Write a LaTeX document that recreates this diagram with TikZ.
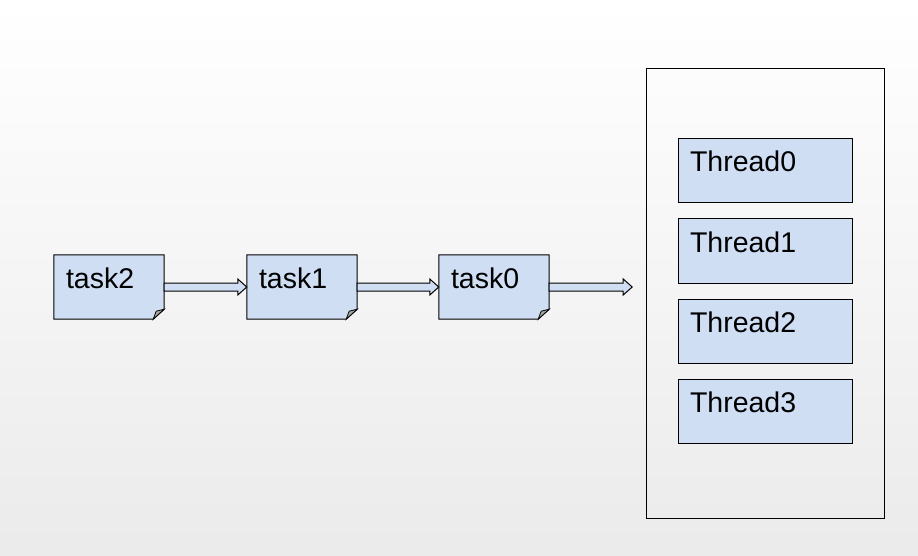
\documentclass[tikz,border=0pt]{standalone}
\usepackage{fontspec}
\setmainfont{Liberation Sans}
\usetikzlibrary{calc,backgrounds}
\definecolor{boxblue}{RGB}{207,222,243}
\definecolor{foldgray}{RGB}{165,165,165}

\tikzset{
  box/.style={inner xsep=12pt, inner ysep=0pt, align=left, text height=33pt, text depth=31pt,
    font=\fontsize{28.5}{34}\selectfont},
  taskbox/.style={box, text width=86pt},
  threadbox/.style={box, text width=150pt, fill=boxblue, draw, line width=1pt},
}

% block arrow from #1 to #2
\newcommand{\blockarrow}[2]{
  \filldraw[fill=boxblue, line width=1pt] ($(#1)+(0,-4)$) -- ($(#2)+(-9,-4)$) -- ($(#2)+(-9,-8)$)
    -- (#2) -- ($(#2)+(-9,8)$) -- ($(#2)+(-9,4)$) -- ($(#1)+(0,4)$) -- cycle;
}

\begin{document}
\begin{tikzpicture}[x=1pt, y=-1pt]
  % queue of tasks
  \node[taskbox] (task2) at (109,287) {task2};
  \node[taskbox] (task1) at (302,287) {task1};
  \node[taskbox] (task0) at (494,287) {task0};
  \coordinate (entry) at ($(task0.east)+(83,0)$);

  % thread pool
  \node[draw, line width=1pt, minimum width=238pt, minimum height=449pt] (pool) at (765,293.5) {};
  \foreach \i in {0,...,3}
    \node[threadbox] (thread\i) at (765,{171+80*\i}) {Thread\i};

  \begin{scope}[on background layer]
    \shade[top color=white, bottom color=black!8] (0,0) rectangle (918,556);
    \foreach \t in {task2,task1,task0}{
      \filldraw[fill=boxblue, line width=1pt] (\t.north west) -- (\t.north east)
        -- ($(\t.south east)+(0,-10)$) -- ($(\t.south east)+(-11,0)$) -- (\t.south west) -- cycle;
      \filldraw[fill=foldgray, line width=0.8pt] ($(\t.south east)+(0,-10)$)
        -- ($(\t.south east)+(-8,-8)$) -- ($(\t.south east)+(-11,0)$) -- cycle;
    }
  \end{scope}

  \blockarrow{task2.east}{task1.west}
  \blockarrow{task1.east}{task0.west}
  \blockarrow{task0.east}{entry}
\end{tikzpicture}
\end{document}
